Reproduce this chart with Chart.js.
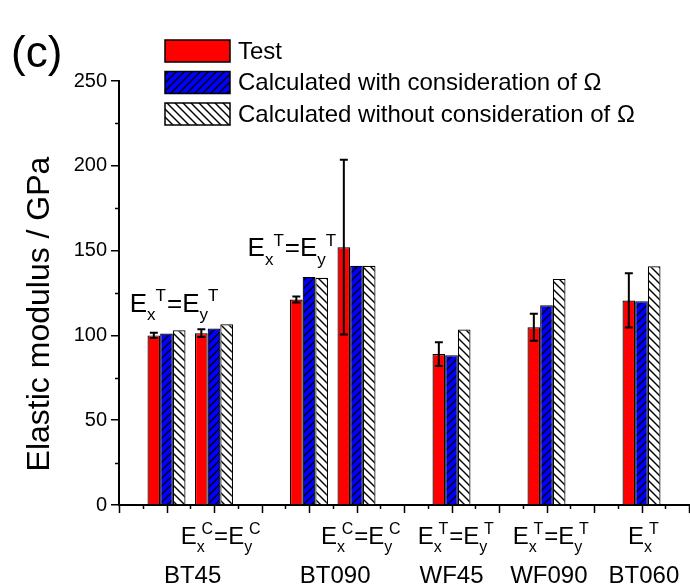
<!DOCTYPE html>
<html>
<head>
<meta charset="utf-8">
<script src="https://cdn.jsdelivr.net/npm/chart.js@4.4.1/dist/chart.umd.min.js"></script>
<style>
body { margin: 0; background: #fff; }
</style>
</head>
<body>
<canvas id="myChart" width="690" height="588"></canvas>
<script>
// bar groups sit on a 0..12 x axis, empty slots between specimens
var groupPos = [1, 2, 4, 5, 7, 9, 11];
var testValues = [100, 101.3, 121.2, 152, 89, 104.8, 120.6];
var testErrors = [1.5, 2.3, 1.8, 51.5, 7, 8, 16];
var withOmega = [101.1, 104, 134.5, 141, 88.3, 117.8, 120.1];
var withoutOmega = [103, 106.6, 134, 141, 103.5, 133.3, 140.8];
var specimens = ["BT45", "BT090", "WF45", "WF090", "BT060"];
var specimenPos = [1.55, 4.55, 7, 9.05, 11.05];
var yTicks = [0, 50, 100, 150, 200, 250];

var FONT = 'Arial, "Liberation Sans", sans-serif';
Chart.defaults.font.family = FONT;
Chart.defaults.color = "#000";

function hatch(bg, dir) {
    var s = 8;
    var c = document.createElement("canvas");
    c.width = s;
    c.height = s;
    var g = c.getContext("2d");
    g.fillStyle = bg;
    g.fillRect(0, 0, s, s);
    g.strokeStyle = "#000";
    g.lineWidth = 1.4;
    g.beginPath();
    if (dir > 0) {
        g.moveTo(-1, s + 1); g.lineTo(s + 1, -1);
        g.moveTo(-1, 1); g.lineTo(1, -1);
        g.moveTo(s - 1, s + 1); g.lineTo(s + 1, s - 1);
    } else {
        g.moveTo(-1, -1); g.lineTo(s + 1, s + 1);
        g.moveTo(s - 1, -1); g.lineTo(s + 1, 1);
        g.moveTo(-1, s - 1); g.lineTo(1, s + 1);
    }
    g.stroke();
    return g.createPattern(c, "repeat");
}

function pts(values) {
    return values.map(function (v, i) { return {x: groupPos[i], y: v}; });
}

// E with subscript/superscript pairs, e.g. [["x","T"],["y","T"]]
function drawModulus(ctx, cx, base, terms, big, small, supShift) {
    function run(draw) {
        var x = 0;
        terms.forEach(function (t, i) {
            ctx.font = big + "px " + FONT;
            if (i > 0) {
                if (draw) ctx.fillText("=", x, base);
                x += ctx.measureText("=").width;
            }
            if (draw) ctx.fillText("E", x, base);
            x += ctx.measureText("E").width;
            ctx.font = small + "px " + FONT;
            var ws = ctx.measureText(t[0]).width;
            var wp = ctx.measureText(t[1]).width;
            if (draw) {
                ctx.fillText(t[0], x, base + small * 0.5);
                ctx.fillText(t[1], x + ws * supShift, base - small * 0.62);
            }
            x += Math.max(ws, ws * supShift + wp) + 1;
        });
        return x;
    }
    var w = run(false);
    ctx.save();
    ctx.translate(cx - w / 2, 0);
    ctx.textAlign = "left";
    ctx.textBaseline = "alphabetic";
    ctx.fillStyle = "#000";
    run(true);
    ctx.restore();
}

var decor = {
    id: "decor",
    afterDatasetsDraw: function (chart) {
        var ctx = chart.ctx;
        var ys = chart.scales.y;
        var meta = chart.getDatasetMeta(0);
        ctx.save();
        ctx.strokeStyle = "#000";
        ctx.lineWidth = 2;
        meta.data.forEach(function (bar, i) {
            var top = ys.getPixelForValue(testValues[i] + testErrors[i]);
            var bot = ys.getPixelForValue(testValues[i] - testErrors[i]);
            ctx.beginPath();
            ctx.moveTo(bar.x, top); ctx.lineTo(bar.x, bot);
            ctx.moveTo(bar.x - 4, top); ctx.lineTo(bar.x + 4, top);
            ctx.moveTo(bar.x - 4, bot); ctx.lineTo(bar.x + 4, bot);
            ctx.stroke();
        });
        ctx.restore();
    },
    afterDraw: function (chart) {
        var ctx = chart.ctx;
        var xs = chart.scales.x, ys = chart.scales.y;
        var area = chart.chartArea;
        ctx.save();
        ctx.strokeStyle = "#000";
        ctx.lineWidth = 1.5;
        ctx.beginPath();
        // minor y ticks
        for (var v = 25; v < 250; v += 50) {
            var py = Math.round(ys.getPixelForValue(v)) + 0.5;
            ctx.moveTo(area.left - 4, py); ctx.lineTo(area.left, py);
        }
        // x ticks, major on whole slots, minor halfway
        for (var k = 0; k <= 24; k++) {
            var px = Math.round(xs.getPixelForValue(k / 2)) + 0.5;
            ctx.moveTo(px, area.bottom);
            ctx.lineTo(px, area.bottom + (k % 2 ? 4 : 8));
        }
        ctx.stroke();

        // y title
        ctx.fillStyle = "#000";
        ctx.save();
        ctx.translate(40.5, 314);
        ctx.rotate(-Math.PI / 2);
        ctx.font = "32px " + FONT;
        ctx.textAlign = "center";
        ctx.textBaseline = "middle";
        ctx.fillText("Elastic modulus / GPa", 0, 0);
        ctx.restore();

        // panel label
        ctx.font = "44px " + FONT;
        ctx.textAlign = "left";
        ctx.textBaseline = "alphabetic";
        ctx.fillText("(c)", 11, 67);

        // legend
        chart.data.datasets.forEach(function (ds, i) {
            var by = 40 + i * 31.5;
            ctx.fillStyle = ds.backgroundColor;
            ctx.fillRect(165, by, 65, 22);
            ctx.lineWidth = 1.5;
            ctx.strokeRect(165, by, 65, 22);
            ctx.fillStyle = "#000";
            ctx.font = "24px " + FONT;
            ctx.textBaseline = "middle";
            ctx.fillText(ds.label, 238, by + 12);
        });
        ctx.textBaseline = "alphabetic";

        // modulus notes above bars
        drawModulus(ctx, xs.getPixelForValue(1.17), ys.getPixelForValue(114), [["x", "T"], ["y", "T"]], 26, 17, 1.0);
        drawModulus(ctx, xs.getPixelForValue(3.65), ys.getPixelForValue(146.6), [["x", "T"], ["y", "T"]], 26, 17, 1.0);
        // modulus notes under the axis
        var nb = area.bottom + 39;
        drawModulus(ctx, xs.getPixelForValue(2.15), nb, [["x", "C"], ["y", "C"]], 24, 16, 0.6);
        drawModulus(ctx, xs.getPixelForValue(5.1), nb, [["x", "C"], ["y", "C"]], 24, 16, 0.6);
        drawModulus(ctx, xs.getPixelForValue(7.1), nb, [["x", "T"], ["y", "T"]], 24, 16, 0.6);
        drawModulus(ctx, xs.getPixelForValue(9.1), nb, [["x", "T"], ["y", "T"]], 24, 16, 0.6);
        drawModulus(ctx, xs.getPixelForValue(11.05), nb, [["x", "T"]], 24, 16, 0.6);
        ctx.restore();
    }
};

var myChart = new Chart(document.getElementById("myChart"), {
    type: "bar",
    data: {
        datasets: [{
            label: "Test",
            data: pts(testValues),
            backgroundColor: "#ff0000"
        }, {
            label: "Calculated with consideration of \u03A9",
            data: pts(withOmega),
            backgroundColor: hatch("#0000ff", 1)
        }, {
            label: "Calculated without consideration of \u03A9",
            data: pts(withoutOmega),
            backgroundColor: hatch("#ffffff", -1)
        }]
    },
    options: {
        responsive: false,
        animation: false,
        layout: {padding: {top: 81, right: 1, left: 0, bottom: 0}},
        datasets: {
            bar: {categoryPercentage: 0.8, barPercentage: 1, borderColor: "#000", borderWidth: 1.2}
        },
        plugins: {
            legend: {display: false},
            tooltip: {enabled: false}
        },
        scales: {
            x: {
                type: "linear",
                offset: false,
                min: 0,
                max: 12,
                afterBuildTicks: function (s) {
                    s.ticks = specimenPos.map(function (v) { return {value: v}; });
                },
                afterFit: function (s) {
                    s.height = 83;
                    s.paddingLeft = 0;
                    s.paddingRight = 0;
                },
                ticks: {
                    autoSkip: false,
                    maxRotation: 0,
                    padding: 57,
                    font: {size: 24},
                    callback: function (v, i) { return specimens[i]; }
                },
                grid: {drawOnChartArea: false, drawTicks: false, offset: false},
                border: {color: "#000", width: 2}
            },
            y: {
                min: 0,
                max: 250,
                afterBuildTicks: function (s) {
                    s.ticks = yTicks.map(function (v) { return {value: v}; });
                },
                afterFit: function (s) { s.width = 119; },
                ticks: {padding: 4, font: {size: 20}},
                grid: {drawOnChartArea: false, tickLength: 8, color: "#000", lineWidth: 1.5},
                border: {color: "#000", width: 2}
            }
        }
    },
    plugins: [decor]
});
</script>
</body>
</html>
